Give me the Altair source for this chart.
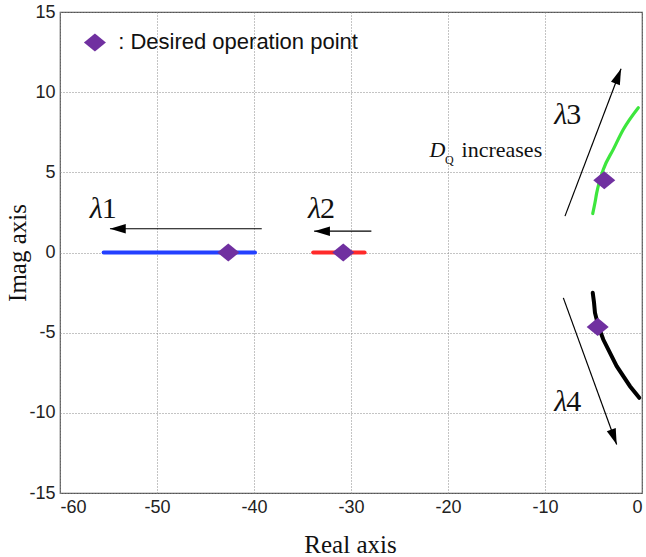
import altair as alt
import pandas as pd

# ---- data ----
lam1_x = [-55.5, -51.0, -47.0, -43.0, -39.9]
lam1_y = [0.0, 0.0, 0.0, 0.0, 0.0]
lam2_x = [-33.9, -31.0, -28.6]
lam2_y = [0.0, 0.0, 0.0]
lam3_x = [-5.08, -4.85, -4.67, -4.35, -3.99, -2.96, -1.93, -0.38]
lam3_y = [2.43, 3.1, 3.72, 4.5, 5.18, 6.43, 7.67, 9.03]
lam4_x = [-5.08, -4.95, -4.85, -4.5, -3.99, -2.61, -1.24, -0.28]
lam4_y = [-2.51, -3.1, -3.76, -4.6, -5.43, -7.09, -8.34, -9.06]

op_x = [-42.65, -30.8, -3.89, -4.57]
op_y = [0.0, 0.0, 4.51, -4.64]

arrow_x = [-39.2, -27.9, -7.94, -8.11]
arrow_y = [1.48, 1.33, 2.27, -2.83]
arrow_x2 = [-54.85, -33.8, -2.16, -2.61]
arrow_y2 = [1.48, 1.33, 11.46, -11.98]
arrow_angle = [270, 270, 20.8, 160]

lam_sym = ["λ", "λ", "λ", "λ"]
lam_num = ["1", "2", "3", "4"]
lam_lx = [-55.6, -33.1, -7.7, -7.7]
lam_ly = [2.7, 2.7, 8.6, -9.3]

x_ticks = [-60, -50, -40, -30, -20, -10, 0]
y_ticks = [-15, -10, -5, 0, 5, 10, 15]

# ---- tables ----
rows = []
for name, xs_, ys_ in [("l1", lam1_x, lam1_y), ("l2", lam2_x, lam2_y),
                       ("l3", lam3_x, lam3_y), ("l4", lam4_x, lam4_y)]:
    for i, (a, b) in enumerate(zip(xs_, ys_)):
        rows.append({"series": name, "x": a, "y": b, "o": i})
branches = pd.DataFrame(rows)
ops = pd.DataFrame({"x": op_x, "y": op_y})
arrows = pd.DataFrame({"x": arrow_x, "y": arrow_y, "x2": arrow_x2, "y2": arrow_y2,
                       "angle": arrow_angle})
lab = pd.DataFrame({"s": lam_sym, "n": lam_num, "x": lam_lx, "y": lam_ly})

xs = alt.Scale(domain=[-60, 0], nice=False, zero=False)
ys = alt.Scale(domain=[-15, 15], nice=False, zero=False)

SANS = "Liberation Sans"
SERIF = "Liberation Serif"

X = alt.X("x:Q", scale=xs, title="Real axis",
          axis=alt.Axis(values=x_ticks, labelExpr="datum.value + ''",
                        grid=True, ticks=False, domain=False,
                        labelFont=SANS, labelFontSize=18,
                        labelColor="#222", labelPadding=5,
                        titleFont=SERIF, titleFontSize=25,
                        titleFontWeight="normal", titleColor="#111",
                        titleX=290, titleY=51, titleBaseline="middle"))
Y = alt.Y("y:Q", scale=ys, title="Imag axis",
          axis=alt.Axis(values=y_ticks, labelExpr="datum.value + ''",
                        grid=True, ticks=False, domain=False,
                        labelFont=SANS, labelFontSize=18,
                        labelColor="#222", labelPadding=5,
                        titleFont=SERIF, titleFontSize=25,
                        titleFontWeight="normal", titleColor="#111",
                        titleX=-43, titleY=240.5, titleAngle=-90,
                        titleBaseline="middle", titleAlign="center"))

color_scale = alt.Scale(domain=["l1", "l2", "l3", "l4"],
                        range=["#2340ff", "#ff2a2a", "#3de63d", "#000000"])
lines_a = alt.Chart(branches[branches.series.isin(["l1", "l2", "l4"])]).mark_line(
    strokeWidth=4, strokeCap="round").encode(
    x=X, y=Y, detail="series:N", order="o:Q",
    color=alt.Color("series:N", legend=None, scale=color_scale))
lines_b = alt.Chart(branches[branches.series == "l3"]).mark_line(
    strokeWidth=3.2, strokeCap="round", interpolate="monotone").encode(
    x="x:Q", y="y:Q", order="o:Q",
    color=alt.Color("series:N", legend=None, scale=color_scale))

diamond = "M-1,0L0,-0.82L1,0L0,0.82Z"
pts = alt.Chart(ops).mark_point(shape=diamond, size=484, filled=True,
                                color="#7030a0", opacity=1).encode(x="x:Q", y="y:Q")

shafts = alt.Chart(arrows).mark_rule(color="#000", strokeWidth=1.2).encode(
    x="x:Q", y="y:Q", x2="x2:Q", y2="y2:Q")
heads = alt.Chart(arrows).mark_point(shape="M0,0L-0.3,1L0.3,1Z", size=1000,
                                     filled=True, color="#000", opacity=1).encode(
    x="x2:Q", y="y2:Q", angle=alt.Angle("angle:Q", scale=None))

lam_s = alt.Chart(lab).mark_text(font=SERIF, fontStyle="italic",
                                 fontSize=30, color="#111", align="right",
                                 baseline="middle").encode(x="x:Q", y="y:Q", text="s:N")
lam_n = alt.Chart(lab).mark_text(font=SERIF, fontSize=30, color="#111", align="left",
                                 baseline="middle", dx=-1).encode(x="x:Q", y="y:Q", text="n:N")

# legend-like annotation
leg_pt = alt.Chart(pd.DataFrame({"x": [-56.4], "y": [13.1]})).mark_point(
    shape=diamond, size=484, filled=True, color="#7030a0", opacity=1).encode(x="x:Q", y="y:Q")
leg_txt = alt.Chart(pd.DataFrame({"x": [-54.0], "y": [13.1],
                                  "t": [": Desired operation point"]})).mark_text(
    font=SANS, fontSize=22, color="#111",
    align="left", baseline="middle").encode(x="x:Q", y="y:Q", text="t:N")

dq = pd.DataFrame({"x": [-21.9, -20.3, -18.6], "y": [5.93, 5.55, 5.93],
                   "t": ["D", "Q", "increases"]})
dq_d = alt.Chart(dq.iloc[[0]]).mark_text(font=SERIF, fontStyle="italic",
                                         fontSize=22, align="left", baseline="alphabetic",
                                         color="#111").encode(x="x:Q", y="y:Q", text="t:N")
dq_q = alt.Chart(dq.iloc[[1]]).mark_text(font=SERIF, fontSize=12,
                                         align="left", baseline="alphabetic",
                                         color="#111").encode(x="x:Q", y="y:Q", text="t:N")
dq_i = alt.Chart(dq.iloc[[2]]).mark_text(font=SERIF, fontSize=22,
                                         align="left", baseline="alphabetic",
                                         color="#111").encode(x="x:Q", y="y:Q", text="t:N")

chart = alt.layer(lines_a, lines_b, shafts, heads, pts, lam_s, lam_n, leg_pt, leg_txt,
                  dq_d, dq_q, dq_i).properties(
    width=582, height=481,
    autosize=alt.AutoSizeParams(type="none"),
    padding={"left": 60, "top": 12, "right": 4, "bottom": 64},
    background="white",
).configure_view(stroke="#555", strokeWidth=1.2).configure_axis(
    gridColor="#888", gridDash=[1, 2], gridOpacity=1, gridWidth=1)

chart.save("out.html", embed_options={"renderer": "svg", "actions": False})
